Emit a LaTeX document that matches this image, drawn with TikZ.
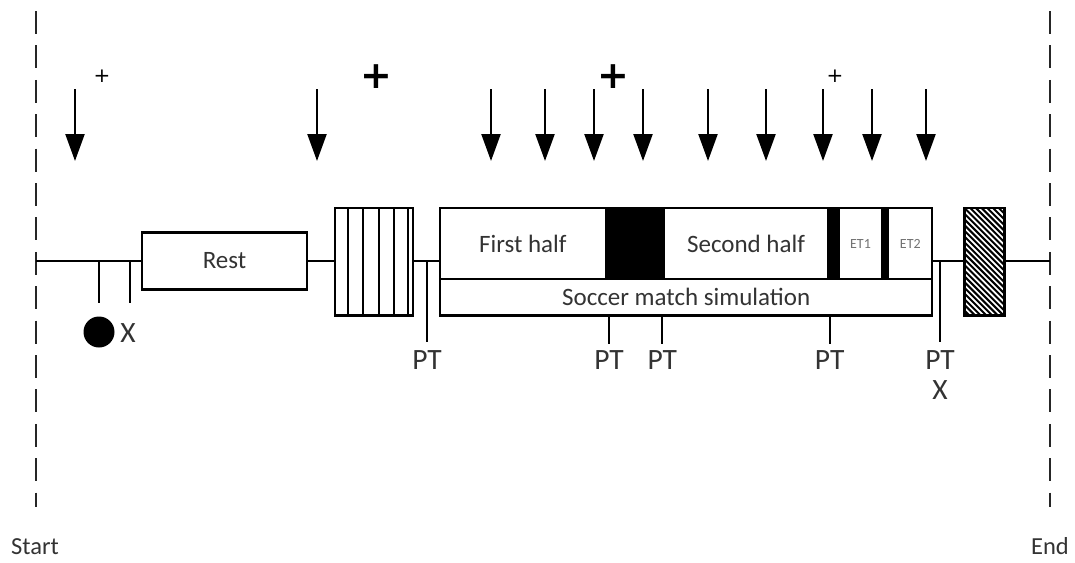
\documentclass[tikz,border=0pt]{standalone}
\usepackage{fontspec}
\setmainfont{Carlito}
\newfontfamily\djv{DejaVu Sans}
\usetikzlibrary{arrows.meta,calc}
\definecolor{txt}{HTML}{333333}
\begin{document}
\begin{tikzpicture}[x=1pt,y=-1pt,
  box/.style={draw, line width=2.2pt, fill=white, inner sep=0pt, outer sep=0pt, text=txt},
  ln/.style={line width=2.2pt},
  arr/.style={line width=2.3pt, -{Triangle[width=19pt,length=27pt]}},
  lbl/.style={text=txt, inner sep=0pt, font=\fontsize{29.5}{32}\selectfont},
  btxt/.style={font=\fontsize{25}{29}\selectfont},
  ettxt/.style={font=\fontsize{14}{16}\selectfont, text=black!55},
  vdash/.style={line width=2.6pt, dash pattern=on 23pt off 11.4pt, draw=black!85},
  plussm/.style={inner sep=0pt, font=\djv\fontsize{20}{22}\selectfont},
  plusbig/.style={inner sep=0pt, font=\djv\bfseries\fontsize{38}{40}\selectfont}]
\useasboundingbox (0,0) rectangle (1075,562);

% vertical dashed limits
\coordinate (ls0) at (36,11);
\coordinate (ls1) at (36,507);
\coordinate (rs0) at (1050,11);
\coordinate (rs1) at (1050,507);
\draw[vdash] (ls0) -- (ls1);
\draw[vdash] (rs0) -- (rs1);
\node[text=txt, inner sep=0pt, font=\fontsize{24.5}{27}\selectfont] (start) at (35,546.5) {Start};
\node[text=txt, inner sep=0pt, font=\fontsize{24.5}{27}\selectfont] (end) at (1050,546.5) {End};

% timeline end points
\coordinate (tl0) at (36,261);
\coordinate (tl1) at (1050,261);

% boxes
\node[box,btxt,minimum width=165pt,minimum height=57pt] (rest) at (224.5,261) {Rest};
\node[box,minimum width=78pt,minimum height=107.5pt] (stripe) at (374,261.75) {};
\foreach \x in {348.3,363.3,379,393.7,408.3}
  \draw[line width=2pt] (\x,208) -- (\x,315.5);

\node[box,btxt,minimum width=492.3pt,minimum height=36.5pt] (sim) at (686.15,297.25) {Soccer match simulation};
\node[box,btxt,minimum width=165.7pt,minimum height=71pt] (first) at (522.85,243.5) {First half};
\node[box,fill=black,minimum width=58.6pt,minimum height=71pt] (ht) at (635,243.5) {};
\node[box,btxt,minimum width=163.4pt,minimum height=71pt] (second) at (746,243.5) {Second half};
\node[box,fill=black,minimum width=11pt,minimum height=71pt] (bar1) at (833.2,243.5) {};
\node[box,ettxt,minimum width=43.6pt,minimum height=71pt] (et1) at (860.5,243.5) {ET1};
\node[box,fill=black,minimum width=6pt,minimum height=71pt] (bar2) at (885.3,243.5) {};
\node[box,ettxt,minimum width=44pt,minimum height=71pt] (et2) at (910.3,243.5) {ET2};

\node[box,minimum width=40pt,minimum height=107.5pt,
  path picture={
    \foreach \k in {-22,...,9}
      \draw[line width=2pt] ($(path picture bounding box.north west)+(\k*5.7,0)$) -- ++(130,130);
  }] (hatch) at (984.5,261.75) {};

% timeline segments
\draw[ln] (tl0) -- (rest.west);
\draw[ln] (rest.east) -- (stripe.west |- tl0);
\draw[ln] (stripe.east |- tl0) -- (first.west |- tl0);
\draw[ln] (et2.east |- tl0) -- (hatch.west |- tl0);
\draw[ln] (hatch.east |- tl0) -- (tl1);

% early ticks, dot and X
\coordinate (k1a) at (99,261);  \coordinate (k1b) at (99,303);
\coordinate (k2a) at (130,261); \coordinate (k2b) at (130,303);
\draw[ln] (k1a) -- (k1b);
\draw[ln] (k2a) -- (k2b);
\node[circle, fill=black, minimum size=31pt, inner sep=0pt] (dot) at (99,332) {};
\node[lbl] (x1) at (128,333) {X};

% PT ticks
\coordinate (p1a) at (427,261);   \coordinate (p1b) at (427,342);
\coordinate (p2a) at (609,315.5); \coordinate (p2b) at (609,344);
\coordinate (p3a) at (662.3,315.5); \coordinate (p3b) at (662.3,344);
\coordinate (p4a) at (829.7,315.5); \coordinate (p4b) at (829.7,344);
\coordinate (p5a) at (940,261);   \coordinate (p5b) at (940,342);
\foreach \i in {1,...,5} \draw[ln] (p\i a) -- (p\i b);
\node[lbl] (pt1) at (427,360) {PT};
\node[lbl] (pt2) at (609,360) {PT};
\node[lbl] (pt3) at (662.3,360) {PT};
\node[lbl] (pt4) at (829.7,360) {PT};
\node[lbl] (pt5) at (940,360) {PT};
\node[lbl] (x2) at (940,390) {X};

% arrows
\foreach \x [count=\i] in {75,317,491,545,594,643,708,766,823,872,926} {
  \coordinate (a\i) at (\x,89);
  \coordinate (b\i) at (\x,161);
  \draw[arr] (a\i) -- (b\i);
}

% plus signs
\node[plussm] (pl1) at (102,76) {+};
\node[plusbig] (pl2) at (376,77) {+};
\node[plusbig] (pl3) at (613,77) {+};
\node[plussm] (pl4) at (835,76) {+};
\end{tikzpicture}
\end{document}
